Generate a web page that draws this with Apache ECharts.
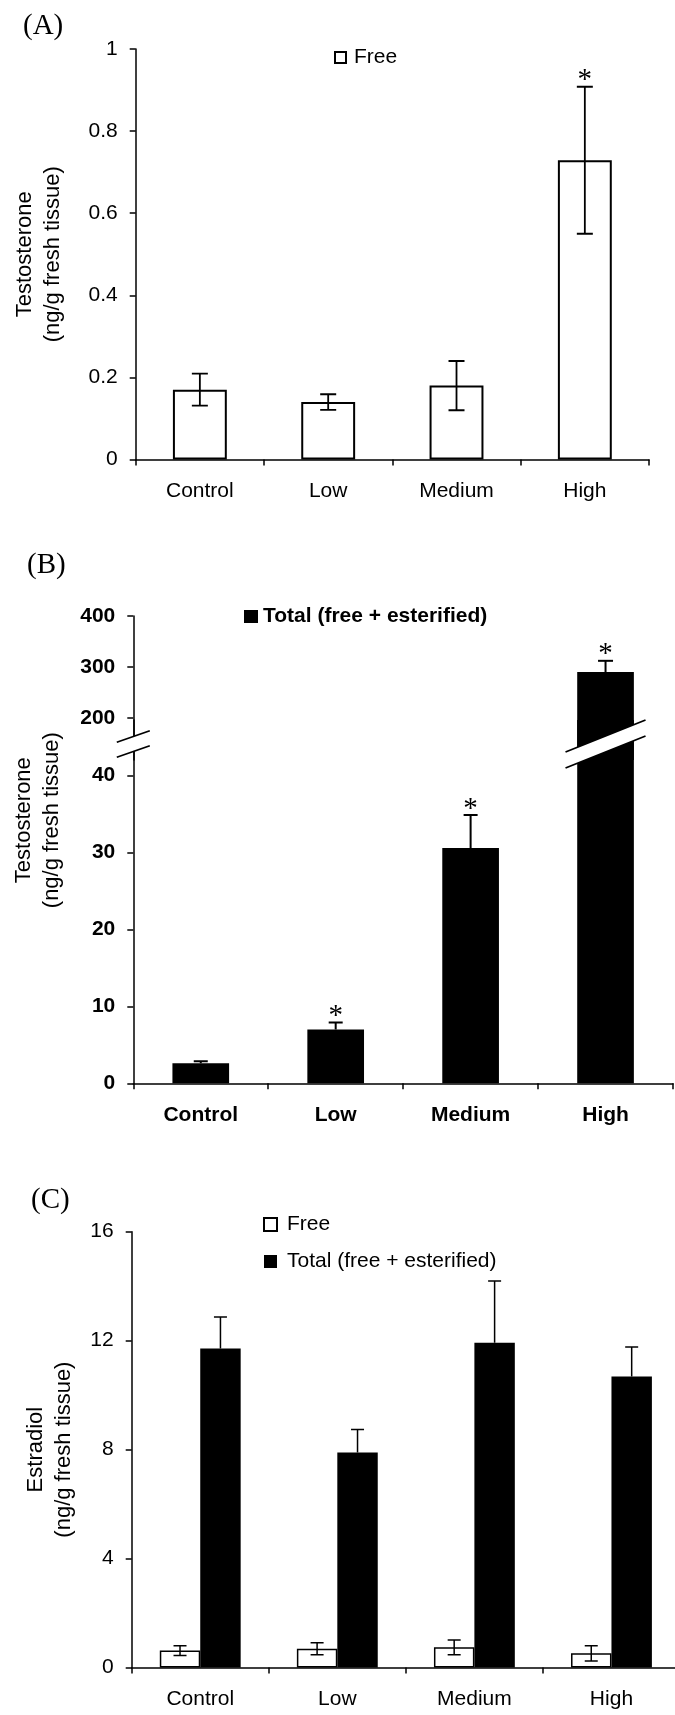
<!DOCTYPE html>
<html>
<head>
<meta charset="utf-8">
<title>Testosterone and estradiol</title>
<script src="https://cdn.jsdelivr.net/npm/echarts@6.0.0/dist/echarts.min.js"></script>
<style>
  html, body { margin: 0; padding: 0; background: #fff; }
  #chart { width: 675px; height: 1715px; }
</style>
</head>
<body>
<div id="chart"></div>
<script>
// dose groups
var categories = ['Control', 'Low', 'Medium', 'High'];

// (A) free testosterone, ng/g fresh tissue
var freeT = [0.170, 0.140, 0.180, 0.729];
var freeTErr = [0.039, 0.019, 0.060, 0.179];
var freeTSig = [0, 0, 0, 1];

// (B) total testosterone (free + esterified)
var totalT = [2.6, 7.0, 30.6, 290];
var totalTErr = [0.26, 0.91, 4.3, 22];
var totalTSig = [0, 1, 1, 1];

// (C) estradiol
var freeE = [0.62, 0.69, 0.74, 0.52];
var freeEErr = [0.18, 0.22, 0.27, 0.28];
var totalE = [11.71, 7.89, 11.92, 10.68];
var totalEErr = [1.16, 0.85, 2.27, 1.09];

// tick labels
var ticksA = [0, 0.2, 0.4, 0.6, 0.8, 1];
var ticksBLow = [0, 10, 20, 30, 40];
var ticksBHigh = [200, 300, 400];
var ticksC = [0, 4, 8, 12, 16];

var SANS = '"Liberation Sans", Arial, sans-serif';
var SERIF = '"Liberation Serif", "Times New Roman", serif';

var chart = echarts.init(document.getElementById('chart'));

function errData(mean, err, sig) {
  return mean.map(function (m, i) {
    return [i, m, err[i], sig ? sig[i] : 0];
  });
}

// error bar drawer; both = two-sided, offset = shift in band widths
function errorBar(both, cap, width, offset) {
  return function (params, api) {
    var i = api.value(0), m = api.value(1), e = api.value(2), s = api.value(3);
    var band = api.size([1, 0])[0];
    var top = api.coord([i, m + e]);
    var bot = api.coord([i, both ? m - e : m]);
    var x = top[0] + offset * band;
    var h = cap / 2;
    var st = { stroke: '#000', lineWidth: width };
    var kids = [
      { type: 'line', shape: { x1: x, y1: top[1], x2: x, y2: bot[1] }, style: st },
      { type: 'line', shape: { x1: x - h, y1: top[1], x2: x + h, y2: top[1] }, style: st }
    ];
    if (both) {
      kids.push({ type: 'line', shape: { x1: x - h, y1: bot[1], x2: x + h, y2: bot[1] }, style: st });
    }
    if (s) {
      kids.push({
        type: 'text', x: x, y: top[1] - 6,
        style: { text: '*', fill: '#000', font: '29px ' + SERIF, align: 'center', verticalAlign: 'middle' }
      });
    }
    return { type: 'group', children: kids };
  };
}

function catAxis(grid, bold, show) {
  return {
    type: 'category', gridIndex: grid, data: categories, show: show,
    axisLine: { lineStyle: { color: '#000', width: 1.5 } },
    axisTick: { show: true, length: 6, lineStyle: { color: '#000', width: 1.5 } },
    axisLabel: { margin: 21, color: '#000', fontSize: 21, fontFamily: SANS, fontWeight: bold ? 'bold' : 'normal' },
    splitLine: { show: false }
  };
}

function valAxis(grid, min, max, ticks, bold, name, gap, pad) {
  return {
    type: 'value', gridIndex: grid, min: min, max: max,
    axisLine: { show: true, lineStyle: { color: '#000', width: 1.5 } },
    axisTick: { show: true, length: 6, customValues: ticks, lineStyle: { color: '#000', width: 1.5 } },
    axisLabel: { customValues: ticks, margin: 18, color: '#000', fontSize: 21, fontFamily: SANS, fontWeight: bold ? 'bold' : 'normal' },
    splitLine: { show: false },
    name: name, nameLocation: 'middle', nameGap: gap,
    nameTextStyle: { color: '#000', fontSize: 22, lineHeight: 28, fontFamily: SANS, padding: pad || 0 }
  };
}

var titleStyle = { color: '#000', fontFamily: SERIF, fontSize: 29, fontWeight: 'normal' };
var legendText = { color: '#000', fontSize: 21, fontFamily: SANS };

var option = {
  animation: false,
  backgroundColor: '#fff',
  title: [
    { text: '(A)', left: 23, top: 12, padding: 0, textStyle: titleStyle },
    { text: '(B)', left: 27, top: 551, padding: 0, textStyle: titleStyle },
    { text: '(C)', left: 31, top: 1186, padding: 0, textStyle: titleStyle }
  ],
  legend: [
    {
      data: ['Free'], left: 334, top: 47, padding: 0, icon: 'rect',
      itemWidth: 11, itemHeight: 11, selectedMode: false,
      textStyle: Object.assign({ padding: [0, 0, 0, 3] }, legendText)
    },
    {
      data: ['Total (free + esterified)'], left: 244, top: 606, padding: 0, icon: 'rect',
      itemWidth: 14, itemHeight: 13, selectedMode: false,
      textStyle: Object.assign({ fontWeight: 'bold' }, legendText)
    },
    {
      data: ['Free', 'Total (free + esterified)'], orient: 'vertical', left: 263, top: 1214,
      padding: 0, icon: 'rect', itemGap: 16, itemWidth: 13, itemHeight: 13, selectedMode: false,
      textStyle: Object.assign({ padding: [0, 0, 0, 5] }, legendText)
    }
  ],
  grid: [
    { left: 135.7, right: 26, top: 49, bottom: 1255.5, outerBoundsMode: 'none' },   // A
    { left: 133.3, right: 2, top: 615.9, bottom: 955, outerBoundsMode: 'none' },    // B upper
    { left: 133.3, right: 2, top: 720, bottom: 631.7, outerBoundsMode: 'none' },    // B lower
    { left: 131.7, right: -5, top: 1231.7, bottom: 47.5, outerBoundsMode: 'none' }  // C
  ],
  xAxis: [
    catAxis(0, false, true),
    catAxis(1, true, false),
    catAxis(2, true, true),
    catAxis(3, false, true)
  ],
  yAxis: [
    valAxis(0, 0, 1, ticksA, false, 'Testosterone\n(ng/g fresh tissue)', 69),
    valAxis(1, 117.7, 400, ticksBHigh, true, '', 0),
    valAxis(2, 0, 47.24, ticksBLow, true, 'Testosterone\n(ng/g fresh tissue)', 67, [0, 0, 0, 163]),
    valAxis(3, 0, 16, ticksC, false, 'Estradiol\n(ng/g fresh tissue)', 54)
  ],
  series: [
    {
      type: 'bar', name: 'Free', xAxisIndex: 0, yAxisIndex: 0, data: freeT, barWidth: '42%',
      itemStyle: { color: '#fff', borderColor: '#000', borderWidth: 2 }
    },
    {
      type: 'custom', xAxisIndex: 0, yAxisIndex: 0, z: 5, clip: true,
      renderItem: errorBar(true, 16, 1.8, 0), data: errData(freeT, freeTErr, freeTSig)
    },
    {
      type: 'bar', name: 'Total (free + esterified)', xAxisIndex: 1, yAxisIndex: 1, data: totalT,
      barWidth: '42%', clip: true, itemStyle: { color: '#000' }
    },
    {
      type: 'custom', xAxisIndex: 1, yAxisIndex: 1, z: 5, clip: true,
      renderItem: errorBar(false, 15, 2, 0), data: errData(totalT, totalTErr, totalTSig)
    },
    {
      type: 'bar', name: 'Total (free + esterified)', xAxisIndex: 2, yAxisIndex: 2, data: totalT,
      barWidth: '42%', clip: true, itemStyle: { color: '#000' }
    },
    {
      type: 'custom', xAxisIndex: 2, yAxisIndex: 2, z: 5, clip: true,
      renderItem: errorBar(false, 14, 2, 0), data: errData(totalT, totalTErr, totalTSig)
    },
    {
      type: 'bar', name: 'Free', xAxisIndex: 3, yAxisIndex: 3, data: freeE,
      barWidth: '29.5%', barGap: '0%', itemStyle: { color: '#fff', borderColor: '#000', borderWidth: 1.5 }
    },
    {
      type: 'bar', name: 'Total (free + esterified)', xAxisIndex: 3, yAxisIndex: 3, data: totalE,
      barWidth: '29.5%', barGap: '0%', itemStyle: { color: '#000' }
    },
    {
      type: 'custom', xAxisIndex: 3, yAxisIndex: 3, z: 5, clip: true,
      renderItem: errorBar(true, 13, 1.5, -0.1475), data: errData(freeE, freeEErr)
    },
    {
      type: 'custom', xAxisIndex: 3, yAxisIndex: 3, z: 5, clip: true,
      renderItem: errorBar(false, 13, 1.5, 0.1475), data: errData(totalE, totalEErr)
    }
  ]
};

chart.setOption(option);

// broken-axis marks for panel B: on the y axis and across the High bar
function breakBand(cx, cy, hw, slope, t) {
  var a = [cx - hw, cy + hw * slope - t / 2];
  var b = [cx + hw, cy - hw * slope - t / 2];
  var c = [cx + hw, cy - hw * slope + t / 2];
  var d = [cx - hw, cy + hw * slope + t / 2];
  var ln = { stroke: '#000', lineWidth: 1.8 };
  return [
    { type: 'polygon', z: 100, shape: { points: [a, b, c, d] }, style: { fill: '#fff' } },
    { type: 'line', z: 101, shape: { x1: a[0], y1: a[1], x2: b[0], y2: b[1] }, style: ln },
    { type: 'line', z: 101, shape: { x1: d[0], y1: d[1], x2: c[0], y2: c[1] }, style: ln }
  ];
}

var breakY = 744;
var axisX = chart.convertToPixel({ xAxisIndex: 2 }, 0) - chart.getModel().getComponent('xAxis', 2).axis.getBandWidth() / 2;
var highX = chart.convertToPixel({ xAxisIndex: 2 }, 'High');
chart.setOption({
  graphic: breakBand(axisX, breakY, 16.5, 0.35, 15).concat(breakBand(highX, breakY, 40, 0.4, 16))
});
</script>
</body>
</html>
